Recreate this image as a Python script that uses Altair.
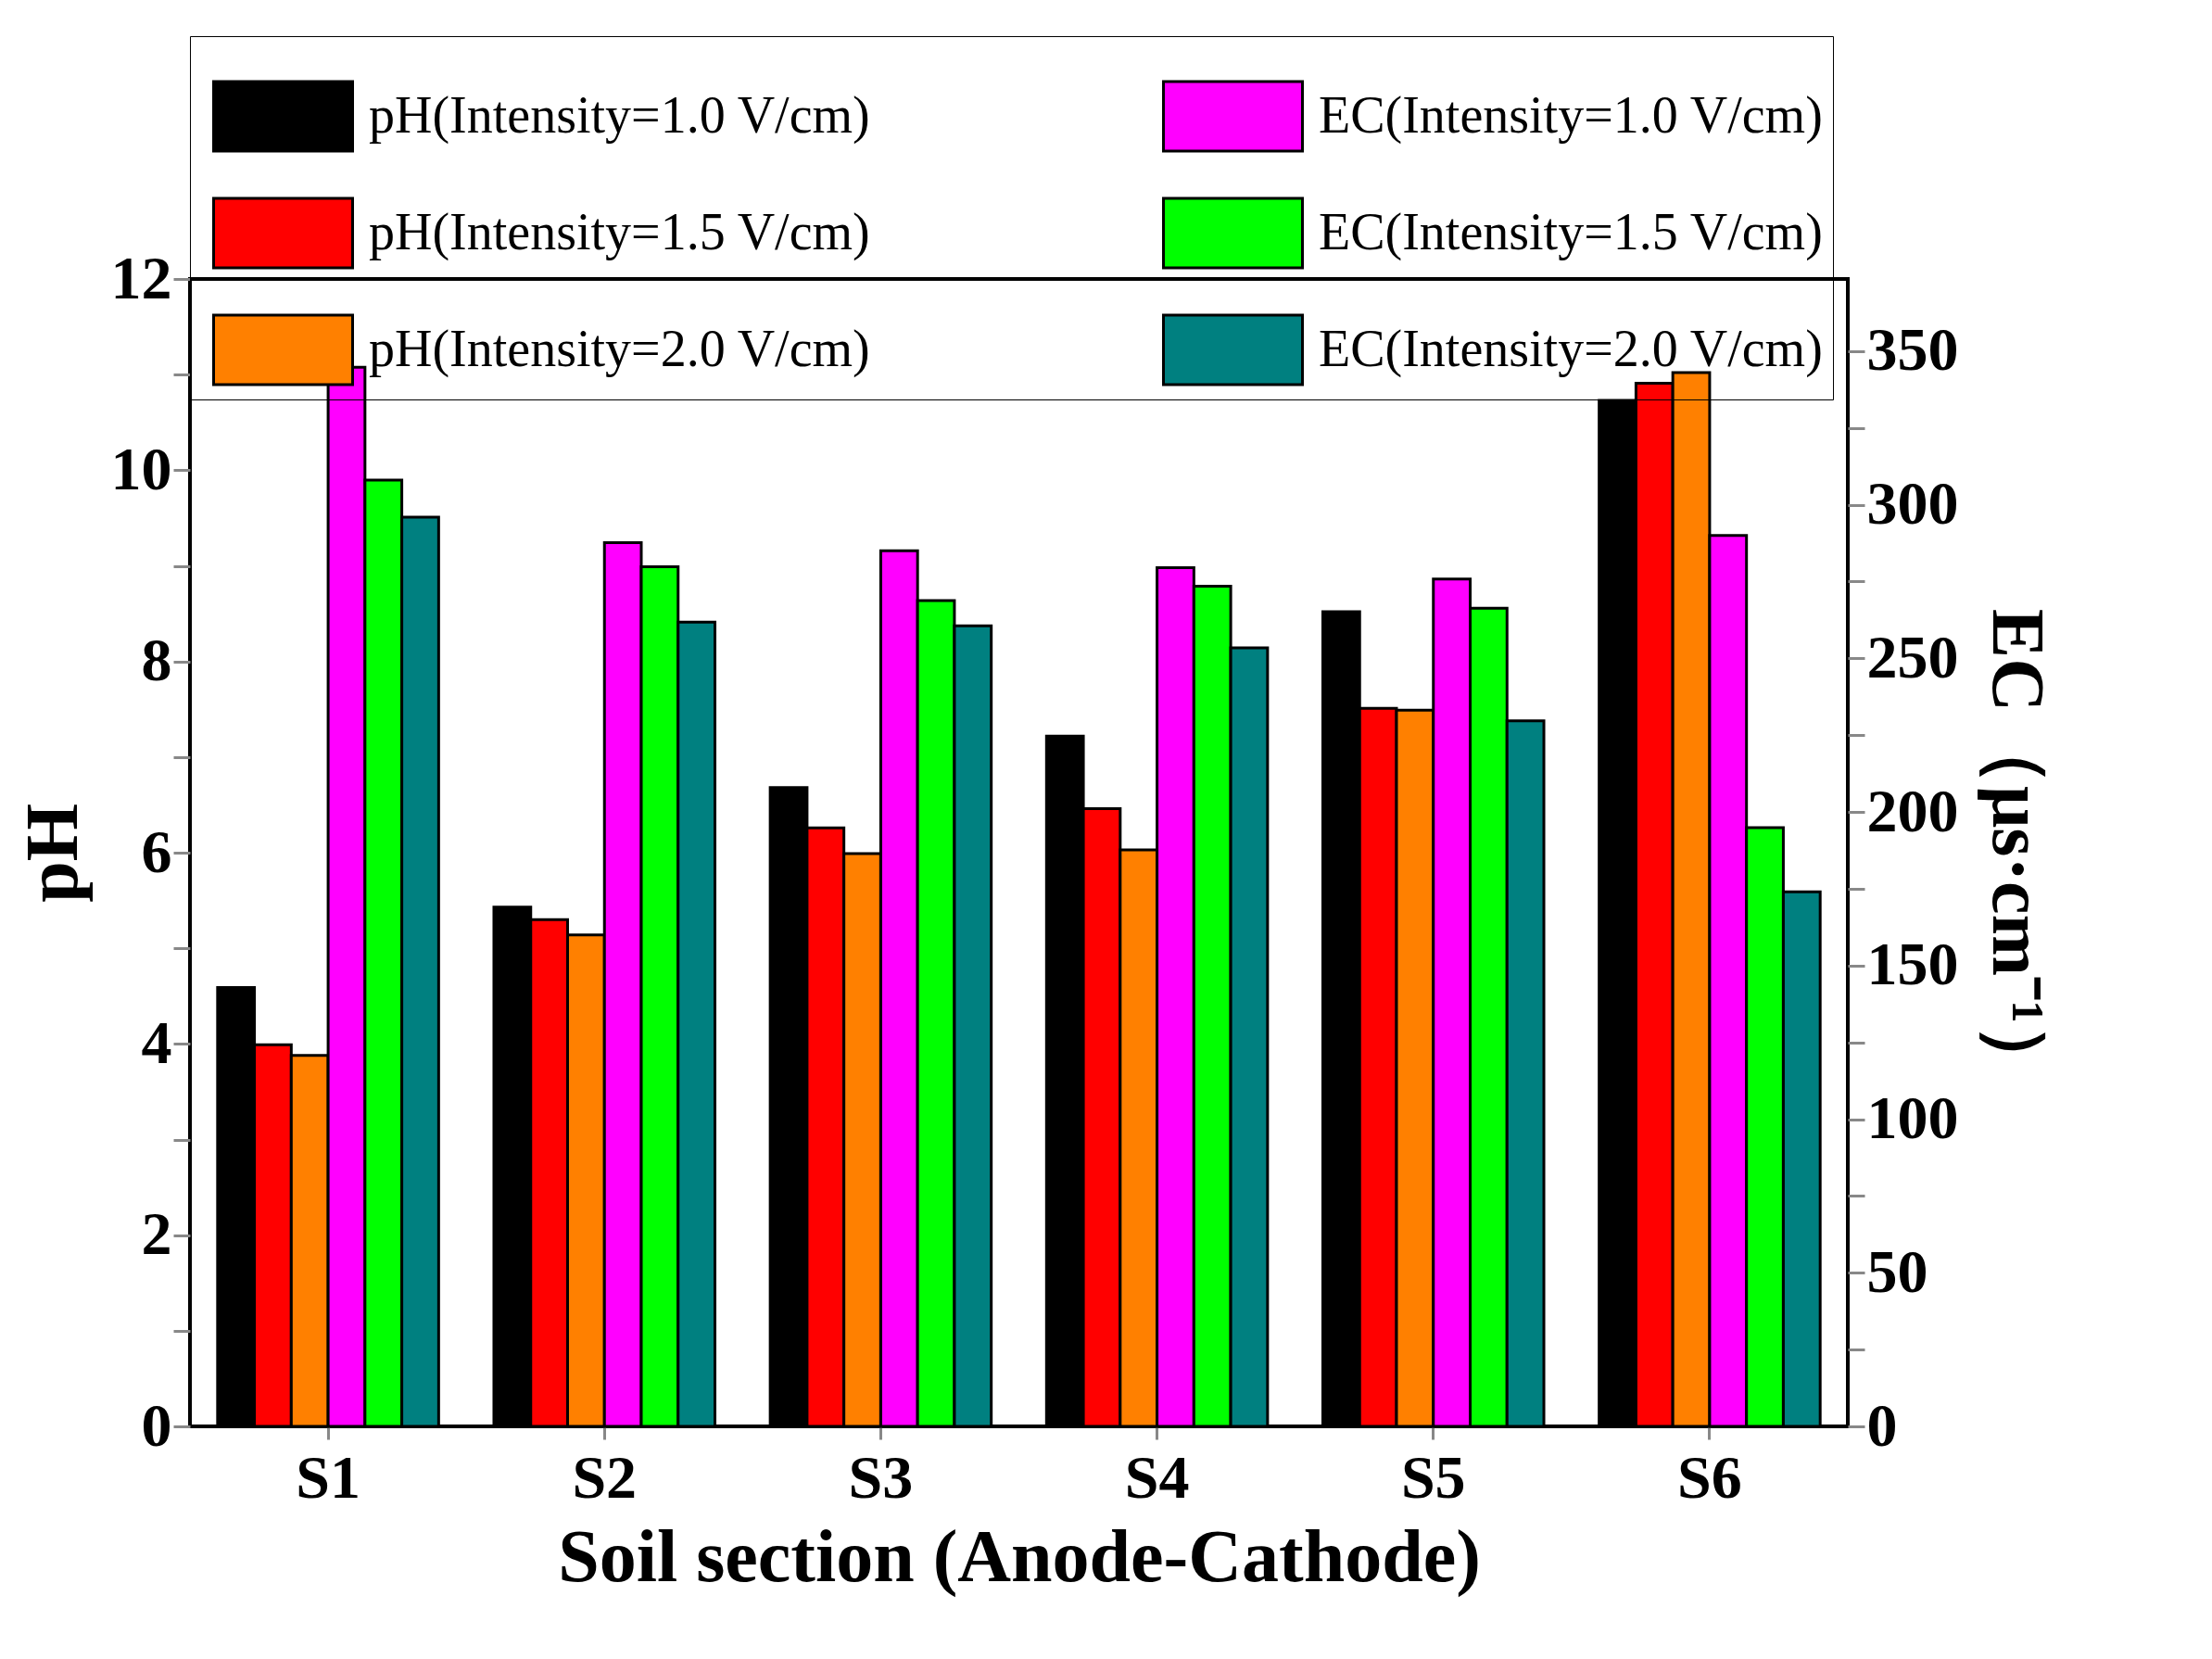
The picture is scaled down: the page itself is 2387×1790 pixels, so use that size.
import pandas as pd
import altair as alt

sections = ["S1", "S2", "S3", "S4", "S5", "S6"]

ph_10 = [4.59, 5.43, 6.68, 7.22, 8.52, 10.73]
ph_15 = [3.99, 5.30, 6.26, 6.46, 7.51, 10.91]
ph_20 = [3.88, 5.14, 5.99, 6.03, 7.49, 11.02]

ec_10 = [344.8, 287.7, 285.0, 279.5, 275.8, 290.0]
ec_15 = [308.0, 279.8, 268.8, 273.5, 266.3, 194.9]
ec_20 = [296.0, 261.8, 260.6, 253.4, 229.7, 174.0]

series = [
    "pH(Intensity=1.0 V/cm)", "pH(Intensity=1.5 V/cm)", "pH(Intensity=2.0 V/cm)",
    "EC(Intensity=1.0 V/cm)", "EC(Intensity=1.5 V/cm)", "EC(Intensity=2.0 V/cm)",
]
colors = ["#000000", "#FF0000", "#FF8000", "#FF00FF", "#00FF00", "#008080"]

rows = []
for vals, name in [(ph_10, series[0]), (ph_15, series[1]), (ph_20, series[2])]:
    for s, v in zip(sections, vals):
        rows.append({"section": s, "series": name, "ph": v, "kind": "pH"})
for vals, name in [(ec_10, series[3]), (ec_15, series[4]), (ec_20, series[5])]:
    for s, v in zip(sections, vals):
        rows.append({"section": s, "series": name, "ec": v, "kind": "EC"})
df = pd.DataFrame(rows)

font = "Liberation Serif"

x = alt.X("section:N", sort=sections, title="Soil section (Anode-Cathode)",
          scale=alt.Scale(paddingInner=0.2, paddingOuter=0.1),
          axis=alt.Axis(labelAngle=0, labelFontSize=66, labelFontWeight="bold",
                        titleFontSize=80, titleFontWeight="bold", tickSize=14,
                        tickWidth=3, labelPadding=10, titlePadding=14, domain=False))
xo = alt.XOffset("series:N", sort=series, scale=alt.Scale(domain=series))
color = alt.Color("series:N", scale=alt.Scale(domain=series, range=colors),
                  legend=alt.Legend(
                      title=None, columns=2, orient="none", legendX=0, legendY=-262,
                      symbolType="M-1,-0.5H1V0.5H-1Z", symbolSize=22500,
                      symbolStrokeColor="black", symbolStrokeWidth=3,
                      labelFontSize=56, labelFont=font, labelLimit=1000,
                      rowPadding=6, columnPadding=300, symbolOffset=14,
                      strokeColor="black", padding=10, labelOffset=16,
                      symbolOpacity=1))

ph = alt.Chart(df).transform_filter("datum.kind == 'pH'").mark_bar(
    stroke="black", strokeWidth=3).encode(
    x=x, xOffset=xo, color=color,
    y=alt.Y("ph:Q", title="pH", scale=alt.Scale(domain=[0, 12], nice=False),
            axis=alt.Axis(values=list(range(13)), labelExpr="datum.value % 2 == 0 ? datum.label : ''",
                          labelFontSize=66, labelFontWeight="bold", titleFontSize=80,
                          titleFontWeight="bold", tickSize=18, tickWidth=3, domain=False,
                          grid=False, titlePadding=20)))

ec = alt.Chart(df).transform_filter("datum.kind == 'EC'").mark_bar(
    stroke="black", strokeWidth=3).encode(
    x=x, xOffset=xo, color=color,
    y=alt.Y("ec:Q", title="EC（μs·cm⁻¹）", scale=alt.Scale(domain=[0, 373.5], nice=False),
            axis=alt.Axis(orient="right", values=list(range(0, 375, 25)),
                          labelExpr="datum.value % 50 == 0 ? datum.label : ''",
                          labelFontSize=66, labelFontWeight="bold", titleFontSize=80,
                          titleFontWeight="bold", tickSize=18, tickWidth=3, domain=False,
                          grid=False, titlePadding=20)))

chart = alt.layer(ph, ec).resolve_scale(y="independent").properties(
    width=1789, height=1238, padding={"top": 30, "left": 10, "right": 10, "bottom": 10}
).configure(font=font).configure_view(stroke="black", strokeWidth=4)

chart.save("out.html", embed_options={"renderer": "svg", "actions": False})
